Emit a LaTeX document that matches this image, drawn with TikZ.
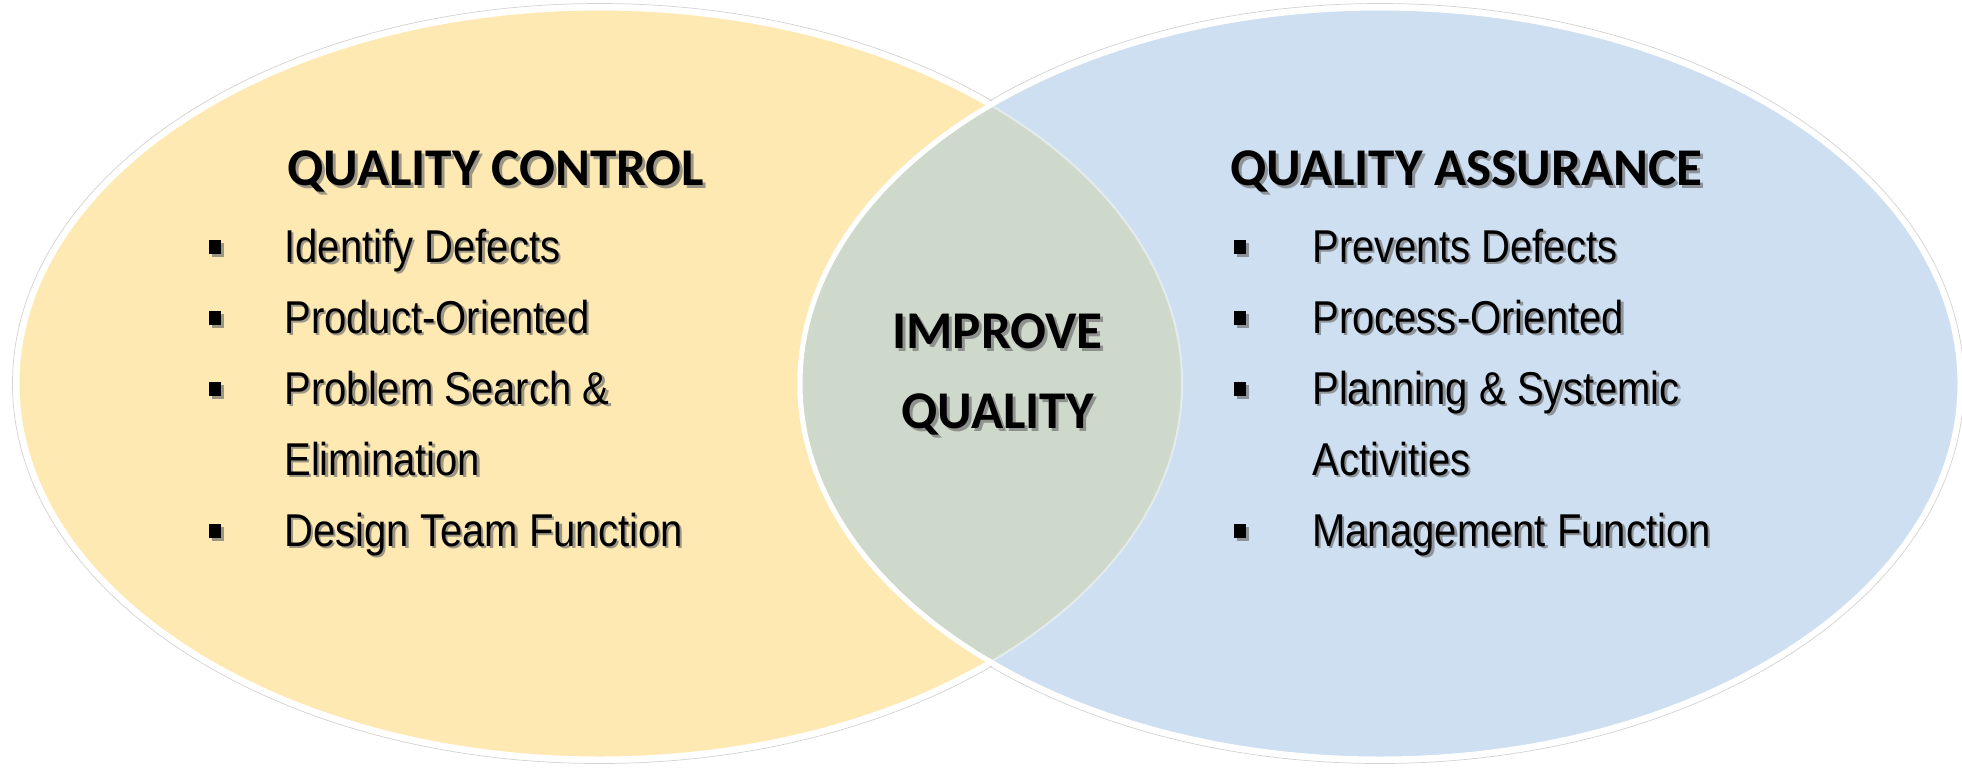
\documentclass[tikz,border=0pt]{standalone}
\usepackage{fontspec}
\setmainfont{Carlito}
\newfontfamily\entryfamily[FakeStretch=0.87]{Liberation Sans}

\definecolor{qcyellow}{RGB}{255,233,178}
\definecolor{qablue}{RGB}{205,223,240}
\definecolor{qboth}{RGB}{206,216,203}

\tikzset{
  heading/.style={font=\bfseries\fontsize{30.2}{36}\selectfont, inner sep=0},
  entry/.style={font=\entryfamily\fontsize{26.2}{32}\selectfont, anchor=base west, inner sep=0},
  bulletsq/.style={fill=black, minimum width=0.24cm, minimum height=0.28cm, inner sep=0},
  shadowcopy/.style={text=black!55, fill=black!55, opacity=0.7},
  rim/.style={draw=white, line width=0.1cm},
  halo/.style={draw=gray!35, line width=0.4pt},
}

\begin{document}
\begin{tikzpicture}[x=0.02cm,y=-0.02cm]
\useasboundingbox (0,0) rectangle (1962,769);
\coordinate (lc) at (599.5,383.5);
\coordinate (rc) at (1380,383.5);

% outer hairlines of both sets
\draw[halo] (lc) ellipse [x radius=587, y radius=380];
\draw[halo] (rc) ellipse [x radius=584, y radius=380];

% the two sets
\draw[rim,fill=qcyellow] (lc) ellipse [x radius=582.5, y radius=375.5];
\draw[rim,fill=qablue] (rc) ellipse [x radius=580, y radius=375.5];
\begin{scope}
  \clip (lc) ellipse [x radius=582.5, y radius=375.5];
  \draw[rim,fill=qboth] (rc) ellipse [x radius=580, y radius=375.5];
\end{scope}
\begin{scope}
  \clip (rc) ellipse [x radius=580, y radius=375.5];
  \draw[white,opacity=0.45,line width=0.04cm] (lc) ellipse [x radius=582.5, y radius=375.5];
\end{scope}

% headings
\node[heading,anchor=base west,shadowcopy,fill=none] at (290,188) {QUALITY CONTROL};
\node[heading,anchor=base west] (qc-head) at (287,185) {QUALITY CONTROL};
\node[heading,anchor=base west,shadowcopy,fill=none] at (1233,188) {QUALITY ASSURANCE};
\node[heading,anchor=base west] (qa-head) at (1230,185) {QUALITY ASSURANCE};
\node[heading,anchor=base,shadowcopy,fill=none] at (1000.5,351) {IMPROVE};
\node[heading,anchor=base] (both-1) at (997.5,348) {IMPROVE};
\node[heading,anchor=base,shadowcopy,fill=none] at (1000.5,431) {QUALITY};
\node[heading,anchor=base] (both-2) at (997.5,428) {QUALITY};

% quality control list
\foreach \y/\txt [count=\i] in {262/Identify Defects,333/Product-Oriented,404/Problem Search \&,475/Elimination,546/Design Team Function}{
  \node[entry,shadowcopy,fill=none] at (286.5,\y+2.5) {\txt};
  \node[entry] (qc-\i) at (284,\y) {\txt};
}
\foreach \y [count=\i] in {262,333,404,546}{
  \node[bulletsq,shadowcopy] at (217.5,\y-12.5) {};
  \node[bulletsq] (qc-dot-\i) at (215,\y-15) {};
}

% quality assurance list
\foreach \y/\txt [count=\i] in {262/Prevents Defects,333/Process-Oriented,404/Planning \& Systemic,475/Activities,546/Management Function}{
  \node[entry,shadowcopy,fill=none] at (1314.5,\y+2.5) {\txt};
  \node[entry] (qa-\i) at (1312,\y) {\txt};
}
\foreach \y [count=\i] in {262,333,404,546}{
  \node[bulletsq,shadowcopy] at (1242.5,\y-12.5) {};
  \node[bulletsq] (qa-dot-\i) at (1240,\y-15) {};
}
\end{tikzpicture}
\end{document}
